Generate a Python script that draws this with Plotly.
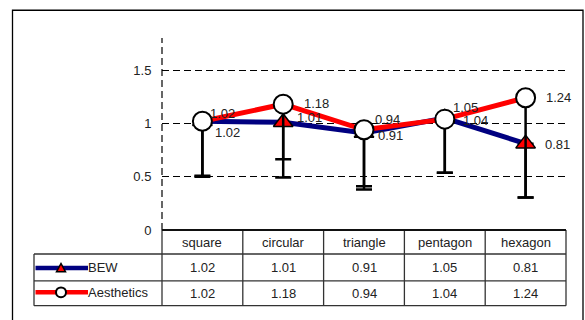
import plotly.graph_objects as go

# ---- data ----
categories = ["square", "circular", "triangle", "pentagon", "hexagon"]
bew = [1.02, 1.01, 0.91, 1.05, 0.81]
aesthetics = [1.02, 1.18, 0.94, 1.04, 1.24]
bew_err_minus = [0.51, 0.345, 0.50, 0.513, 0.504]
aes_err_minus = [0.52, 0.686, 0.56, 0.503, 0.934]
series_names = ["BEW", "Aesthetics"]
y_ticks = [0, 0.5, 1, 1.5]

# label offsets (pixels) so overlapping value labels stay readable
bew_label_dx = [11, 12, 12, 6, 17]
bew_label_dy = [-11, 5, -3, 11, -1]
aes_label_dx = [6, 19, 9, 16, 18]
aes_label_dy = [8, 1, 10, -1, 0]

W, H = 585, 320
FONT = "Liberation Sans, Arial, sans-serif"
FS = 13
TXT = "#222222"
NAVY = "#000080"
RED = "#FF0000"

# plot-area geometry in pixels
PL, PR, PT, PB = 162, 566, 39, 236
ROWS = [236, 260.5, 288, 313.5]
TABLE_LEFT = 34


def px(x):
    return x / W


def py(y):
    return 1 - y / H


fig = go.Figure()

fig.add_trace(go.Scatter(
    x=categories, y=bew, name=series_names[0], mode="lines+markers",
    line=dict(color=NAVY, width=5),
    marker=dict(symbol="triangle-up", size=17, color=RED,
                line=dict(color="black", width=1.5)),
    error_y=dict(type="data", symmetric=False, array=[0] * len(bew),
                 arrayminus=bew_err_minus, color="black", thickness=2.5, width=8),
    showlegend=False,
))
fig.add_trace(go.Scatter(
    x=categories, y=aesthetics, name=series_names[1], mode="lines+markers",
    line=dict(color=RED, width=5),
    marker=dict(symbol="circle", size=19, color="white",
                line=dict(color="black", width=2)),
    error_y=dict(type="data", symmetric=False, array=[0] * len(aesthetics),
                 arrayminus=aes_err_minus, color="black", thickness=2.5, width=8),
    showlegend=False,
))

annotations = []
for vals, dxs, dys in ((bew, bew_label_dx, bew_label_dy),
                       (aesthetics, aes_label_dx, aes_label_dy)):
    for c, v, dx, dy in zip(categories, vals, dxs, dys):
        annotations.append(dict(
            x=c, y=v, xref="x", yref="y", text=f"{v:.2f}", showarrow=False,
            xanchor="left", yanchor="middle", xshift=dx, yshift=dy,
            font=dict(family=FONT, size=FS, color=TXT)))

shapes = []
# outer frame
shapes.append(dict(type="rect", xref="paper", yref="paper",
                   x0=px(12.5), x1=px(583), y0=py(10.5), y1=py(340),
                   line=dict(color="black", width=1.3)))
# dashed value axis
shapes.append(dict(type="line", xref="paper", yref="paper",
                   x0=px(PL), x1=px(PL), y0=py(PB), y1=py(PT),
                   line=dict(color="black", width=1.2, dash="7px,4px")))

# data table under the category axis
col_w = (PR - PL) / len(categories)
grid = dict(color="#333333", width=1.3)
for r in ROWS[1:]:
    shapes.append(dict(type="line", xref="paper", yref="paper",
                       x0=px(TABLE_LEFT), x1=px(PR),
                       y0=py(r), y1=py(r), line=grid))
for i in range(len(categories) + 1):
    xx = PL + i * col_w
    shapes.append(dict(type="line", xref="paper", yref="paper",
                       x0=px(xx), x1=px(xx), y0=py(ROWS[0]), y1=py(ROWS[-1]),
                       line=grid))
shapes.append(dict(type="line", xref="paper", yref="paper",
                   x0=px(TABLE_LEFT), x1=px(TABLE_LEFT), y0=py(ROWS[1]), y1=py(ROWS[-1]),
                   line=grid))
# category axis line
shapes.append(dict(type="line", xref="paper", yref="paper",
                   x0=px(PL), x1=px(PR), y0=py(PB), y1=py(PB),
                   line=dict(color="#111111", width=2)))

for i, c in enumerate(categories):
    cx = PL + (i + 0.5) * col_w
    annotations.append(dict(x=px(cx), y=py((ROWS[0] + ROWS[1]) / 2), xref="paper", yref="paper",
                            text=c, showarrow=False, xanchor="center", yanchor="middle",
                            font=dict(family=FONT, size=FS, color=TXT)))
    for row, vals in enumerate((bew, aesthetics)):
        annotations.append(dict(x=px(cx), y=py((ROWS[row + 1] + ROWS[row + 2]) / 2),
                                xref="paper", yref="paper", text=f"{vals[i]:.2f}",
                                showarrow=False, xanchor="center", yanchor="middle",
                                font=dict(family=FONT, size=FS, color=TXT)))

# legend keys inside the table's first column
key_y = [(ROWS[1] + ROWS[2]) / 2 + 0.5, (ROWS[2] + ROWS[3]) / 2 - 1]
key_colors = [NAVY, RED]
for name, ky, kc in zip(series_names, key_y, key_colors):
    shapes.append(dict(type="line", xref="paper", yref="paper",
                       x0=px(TABLE_LEFT + 1.5), x1=px(88), y0=py(ky), y1=py(ky),
                       line=dict(color=kc, width=4.5)))
    annotations.append(dict(x=px(88), y=py(ky), xref="paper", yref="paper", text=name,
                            showarrow=False, xanchor="left", yanchor="middle",
                            xshift=-2, font=dict(family=FONT, size=FS, color=TXT)))
kx = 61
ty = key_y[0]
shapes.append(dict(type="path", xref="paper", yref="paper",
                   path=(f"M {px(kx - 4.5)},{py(ty + 4)} L {px(kx + 4.5)},{py(ty + 4)} "
                         f"L {px(kx)},{py(ty - 4.5)} Z"),
                   fillcolor=RED, line=dict(color="black", width=1.5)))
cy = key_y[1]
shapes.append(dict(type="circle", xref="paper", yref="paper",
                   x0=px(kx - 5), x1=px(kx + 5), y0=py(cy + 5), y1=py(cy - 5),
                   fillcolor="white", line=dict(color="black", width=2)))

fig.update_layout(
    width=W, height=H, margin=dict(l=0, r=0, t=0, b=0),
    paper_bgcolor="white", plot_bgcolor="white",
    xaxis=dict(domain=[px(PL), px(PR)], range=[-0.5, len(categories) - 0.5],
               showticklabels=False, showgrid=False, zeroline=False, showline=False,
               ticks=""),
    yaxis=dict(domain=[py(PB), py(PT)], range=[0, 1.8], tickvals=y_ticks,
               ticktext=[f"{t:g}" for t in y_ticks], ticks="outside", ticklen=7,
               tickcolor="rgba(0,0,0,0)", showgrid=True, gridcolor="black",
               gridwidth=1, griddash="7px,4px", zeroline=False, showline=False,
               tickfont=dict(family=FONT, size=FS, color=TXT)),
    shapes=shapes, annotations=annotations,
)

fig.write_html("out.html")
